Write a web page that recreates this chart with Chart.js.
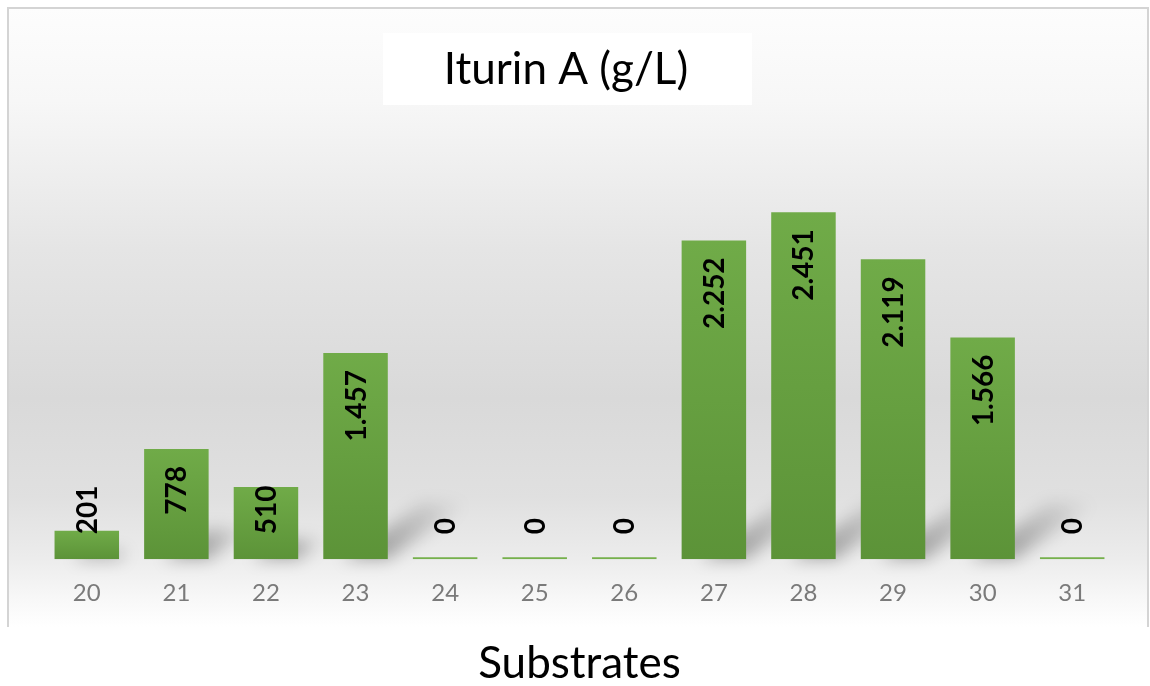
<!DOCTYPE html>
<html>
<head>
<meta charset="utf-8">
<script src="https://cdn.jsdelivr.net/npm/chart.js@4"></script>
<style>
  html, body { margin: 0; padding: 0; background: #fff; }
  #wrap { width: 1150px; height: 686px; }
</style>
</head>
<body>
<div id="wrap"><canvas id="iturinChart"></canvas></div>
<script>
const substrates = ['20', '21', '22', '23', '24', '25', '26', '27', '28', '29', '30', '31'];
const iturinA = [201, 778, 510, 1457, 0, 0, 0, 2252, 2451, 2119, 1566, 0];
const chartTitle = 'Iturin A (g/L)';
const axisTitle = 'Substrates';

const FONT = 'Lato, "Open Sans", sans-serif';

// frame + grey gradient background, white box with the title
const backdrop = {
  id: 'backdrop',
  beforeDraw(chart) {
    const c = chart.ctx;
    const top = 8, bottom = 627, left = 8, right = 1148;
    c.save();
    const g = c.createLinearGradient(0, top, 0, bottom);
    g.addColorStop(0, '#fdfdfd');
    g.addColorStop(0.15, '#f7f7f7');
    g.addColorStop(0.39, '#e5e5e5');
    g.addColorStop(0.63, '#d9d9d9');
    g.addColorStop(0.79, '#e0e0e0');
    g.addColorStop(0.89, '#ececec');
    g.addColorStop(0.956, '#f8f8f8');
    g.addColorStop(1, '#ffffff');
    c.fillStyle = g;
    c.fillRect(left, top, right - left, bottom - top);
    c.strokeStyle = '#d4d4d4';
    c.lineWidth = 2;
    c.beginPath();
    c.moveTo(left, bottom);
    c.lineTo(left, top);
    c.lineTo(right, top);
    c.lineTo(right, bottom);
    c.stroke();
    // title box + title
    c.fillStyle = '#ffffff';
    c.fillRect(383, 33, 369, 72);
    c.fillStyle = '#000';
    c.font = '44px ' + FONT;
    c.textAlign = 'center';
    c.textBaseline = 'middle';
    c.fillText(chartTitle, 566, 70);
    c.restore();
  },
  beforeDatasetsDraw(chart) {
    // soft diagonal shadows behind bars
    const c = chart.ctx;
    const meta = chart.getDatasetMeta(0);
    c.save();
    c.filter = 'blur(8px)';
    meta.data.forEach((bar, i) => {
      if (!iturinA[i]) return;
      const h = Math.min(bar.base - bar.y, 200);
      if (!isFinite(h)) return;
      const dx = h * 0.4, dy = h * 0.28;
      const l = bar.x - bar.width / 2, r = bar.x + bar.width / 2;
      const g = c.createLinearGradient(r, bar.base, r + dx, bar.base - dy);
      g.addColorStop(0, 'rgba(0,0,0,0.30)');
      g.addColorStop(1, 'rgba(0,0,0,0)');
      c.fillStyle = g;
      c.beginPath();
      c.moveTo(l + bar.width * 0.3, bar.base);
      c.lineTo(r, bar.base);
      c.lineTo(r + dx, bar.base - dy);
      c.lineTo(l + bar.width * 0.3 + dx, bar.base - dy);
      c.closePath();
      c.fill();
    });
    c.restore();
  }
};

// vertical value labels, inside the top of each bar
const valueLabels = {
  id: 'valueLabels',
  afterDatasetsDraw(chart) {
    const c = chart.ctx;
    const meta = chart.getDatasetMeta(0);
    c.save();
    c.font = 'bold 28px ' + FONT;
    c.fillStyle = '#000';
    c.textAlign = 'right';
    c.textBaseline = 'middle';
    meta.data.forEach((bar, i) => {
      const txt = iturinA[i].toLocaleString('de-DE');
      const w = c.measureText(txt).width;
      const top = iturinA[i] ? bar.y : bar.base;
      const y = Math.min(top + 17, bar.base - 25 - w);
      c.save();
      c.translate(bar.x + 1, y);
      c.rotate(-Math.PI / 2);
      c.fillText(txt, 0, 0);
      c.restore();
    });
    c.restore();
  }
};

function barFill(ctx) {
  const chart = ctx.chart;
  const y = chart.scales.y;
  if (!y || ctx.raw === undefined) return '#6aa545';
  const top = y.getPixelForValue(ctx.raw);
  const base = y.getPixelForValue(0);
  if (!isFinite(top) || !isFinite(base)) return '#6aa545';
  if (base - top < 4) return '#76b04c';
  const g = chart.ctx.createLinearGradient(0, top, 0, base);
  g.addColorStop(0, '#70ab48');
  g.addColorStop(1, '#5c9338');
  return g;
}

new Chart(document.getElementById('iturinChart'), {
  type: 'bar',
  data: {
    labels: substrates,
    datasets: [{
      label: chartTitle,
      data: iturinA,
      backgroundColor: barFill,
      borderWidth: 0,
      minBarLength: 2,
      categoryPercentage: 0.72,
      barPercentage: 1
    }]
  },
  options: {
    responsive: true,
    maintainAspectRatio: false,
    animation: false,
    layout: { padding: { top: 134.5, left: 42, right: 33, bottom: 0 } },
    plugins: {
      legend: { display: false },
      tooltip: { enabled: false },
      title: { display: false }
    },
    scales: {
      x: {
        grid: { display: false, drawTicks: false },
        border: { display: false },
        ticks: { color: '#7a7a7a', font: { family: FONT, size: 24 }, padding: 20 },
        title: {
          display: true,
          text: axisTitle,
          color: '#000',
          font: { family: FONT, size: 44, lineHeight: 1 },
          padding: { top: 14, bottom: 0 }
        }
      },
      y: {
        display: false,
        min: 0,
        max: 3000
      }
    }
  },
  plugins: [backdrop, valueLabels]
});
</script>
</body>
</html>
